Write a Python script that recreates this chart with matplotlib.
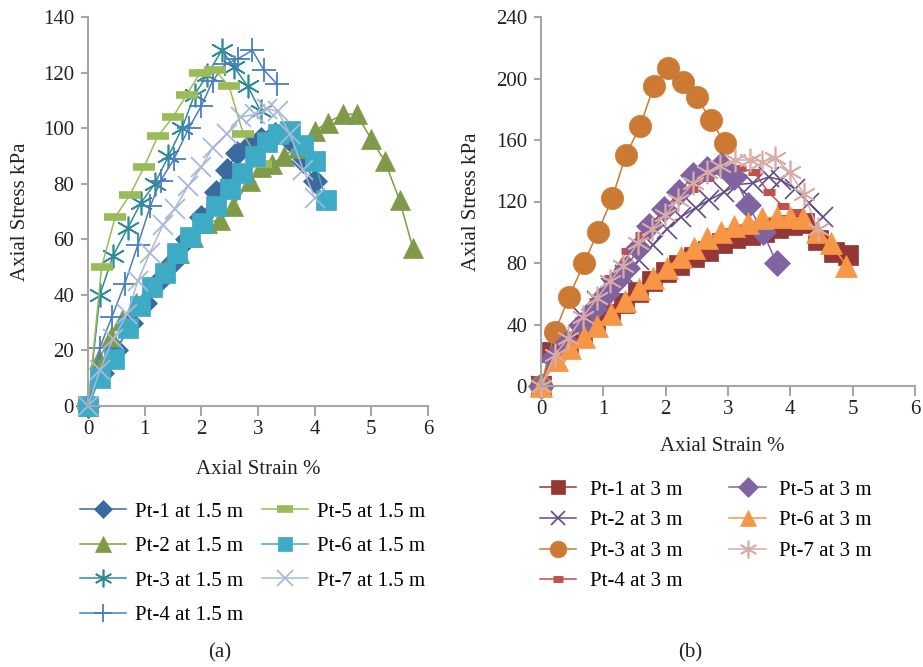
import matplotlib
matplotlib.use("Agg")
import matplotlib.pyplot as plt

plt.rcParams['font.family'] = ['Liberation Serif', 'DejaVu Serif']

# ---- (a) samples at 1.5 m ----
a_labels = ["Pt-1 at 1.5 m", "Pt-2 at 1.5 m", "Pt-3 at 1.5 m", "Pt-4 at 1.5 m",
            "Pt-5 at 1.5 m", "Pt-6 at 1.5 m", "Pt-7 at 1.5 m"]

a1_x = [0, 0.25, 0.5, 0.75, 1.0, 1.25, 1.5, 1.75, 2.0, 2.25, 2.45, 2.63, 2.85, 3.05, 3.3, 3.55, 3.8, 4.0]
a1_y = [0, 12, 20, 30, 37, 45, 52, 60, 68, 77, 85, 91, 94, 96, 98, 96, 88, 81]

a2_x = [0, 0.2, 0.4, 0.6, 0.85, 1.1, 1.35, 1.6, 1.85, 2.1, 2.33, 2.56, 2.85, 3.05, 3.25, 3.45, 3.7, 4.0, 4.23, 4.5, 4.74, 5.0, 5.24, 5.5, 5.73]
a2_y = [0, 17, 25, 31, 37, 43, 49, 55, 61, 66, 67, 72, 81, 86, 87, 90, 93, 99, 102, 105, 105, 96, 88, 74, 57]

a3_x = [0, 0.21, 0.44, 0.7, 0.93, 1.18, 1.42, 1.66, 1.88, 2.1, 2.36, 2.58, 2.82, 3.05]
a3_y = [0, 40, 54, 64, 73, 80, 90, 100, 112, 119, 128, 122, 115, 106]

a4_x = [0, 0.21, 0.42, 0.65, 0.88, 1.1, 1.28, 1.52, 1.78, 2.0, 2.2, 2.42, 2.65, 2.9, 3.1, 3.33]
a4_y = [0, 21, 32, 44, 58, 72, 81, 89, 100, 108, 117, 123, 125, 128, 121, 116]

a5_x = [0, 0.24, 0.48, 0.74, 0.99, 1.23, 1.5, 1.74, 1.98, 2.24, 2.49, 2.74, 3.05]
a5_y = [0, 50, 68, 76, 86, 97, 104, 112, 120, 121, 115, 98, 87]

a6_x = [0, 0.21, 0.45, 0.7, 0.92, 1.13, 1.35, 1.57, 1.8, 2.02, 2.25, 2.5, 2.72, 2.95, 3.15, 3.35, 3.57, 3.8, 4.0, 4.2]
a6_y = [0, 10, 17, 28, 36, 43, 48, 55, 61, 66, 72, 78, 84, 90, 95, 98, 99, 94, 88, 74]

a7_x = [0, 0.21, 0.44, 0.69, 0.88, 1.09, 1.32, 1.53, 1.76, 2.0, 2.2, 2.45, 2.7, 2.95, 3.16, 3.35, 3.56, 3.8, 4.0]
a7_y = [0, 13, 24, 33, 45, 55, 65, 71, 79, 86, 93, 98, 104, 105, 107, 106, 98, 85, 75]

# ---- (b) samples at 3 m ----
b_labels = ["Pt-1 at 3 m", "Pt-2 at 3 m", "Pt-3 at 3 m", "Pt-4 at 3 m",
            "Pt-5 at 3 m", "Pt-6 at 3 m", "Pt-7 at 3 m"]

b1_x = [0, 0.18, 0.43, 0.65, 0.87, 1.1, 1.33, 1.55, 1.78, 2.0, 2.22, 2.45, 2.68, 2.9, 3.12, 3.35, 3.57, 3.8, 4.02, 4.22, 4.45, 4.7, 4.92]
b1_y = [0, 22, 28, 35, 41, 47, 54, 61, 68, 74, 79, 84, 88, 93, 96, 98, 100, 103, 105, 106, 95, 87, 85]

b2_x = [0, 0.22, 0.45, 0.68, 0.9, 1.12, 1.35, 1.58, 1.8, 2.02, 2.25, 2.48, 2.7, 2.93, 3.15, 3.4, 3.65, 3.85, 4.08, 4.3, 4.52]
b2_y = [0, 22, 33, 45, 55, 64, 72, 82, 92, 102, 110, 116, 121, 126, 131, 132, 136, 134, 128, 119, 110]

b3_x = [0, 0.22, 0.45, 0.69, 0.91, 1.14, 1.36, 1.59, 1.81, 2.04, 2.28, 2.5, 2.72, 2.95]
b3_y = [0, 35, 58, 80, 100, 122, 150, 169, 195, 207, 198, 188, 173, 158]

b4_x = [0, 0.2, 0.42, 0.64, 0.86, 1.1, 1.38, 1.6, 1.8, 2.0, 2.2, 2.43, 2.68, 2.95, 3.19, 3.42, 3.65, 3.88, 4.1]
b4_y = [0, 20, 30, 43, 55, 70, 88, 98, 107, 115, 122, 128, 135, 141, 142, 139, 126, 117, 113]

b5_x = [0, 0.2, 0.42, 0.64, 0.85, 1.05, 1.2, 1.38, 1.56, 1.74, 1.98, 2.22, 2.44, 2.66, 2.88, 3.1, 3.32, 3.56, 3.78]
b5_y = [0, 18, 28, 40, 50, 60, 68, 77, 90, 104, 115, 126, 137, 141, 144, 136, 118, 100, 80]

b6_x = [0, 0.25, 0.47, 0.69, 0.9, 1.13, 1.35, 1.57, 1.8, 2.02, 2.24, 2.45, 2.67, 2.88, 3.1, 3.32, 3.55, 3.78, 4.0, 4.2, 4.42, 4.65, 4.9]
b6_y = [0, 17, 25, 32, 39, 47, 55, 63, 70, 77, 84, 90, 96, 100, 104, 106, 109, 110, 110, 109, 100, 93, 78]

b7_x = [0, 0.22, 0.43, 0.67, 0.9, 1.1, 1.31, 1.55, 1.78, 1.99, 2.2, 2.44, 2.66, 2.87, 3.12, 3.35, 3.55, 3.76, 3.99, 4.22, 4.44]
b7_y = [0, 20, 31, 45, 57, 68, 78, 93, 102, 111, 121, 132, 139, 143, 147, 147, 146, 148, 139, 125, 102]

a_series = [(a1_x, a1_y), (a2_x, a2_y), (a3_x, a3_y), (a4_x, a4_y),
            (a5_x, a5_y), (a6_x, a6_y), (a7_x, a7_y)]
b_series = [(b1_x, b1_y), (b2_x, b2_y), (b3_x, b3_y), (b4_x, b4_y),
            (b5_x, b5_y), (b6_x, b6_y), (b7_x, b7_y)]

# colour, marker, marker size, marker edge width
a_styles = [
    ("#3A6AA0", "D", 12, 0.5),
    ("#7F9A48", "^", 15, 0.5),
    ("#2E8B9A", (6, 2, 0), 17, 1.2),
    ("#4A7EC0", "+", 17, 1.3),
    ("#9BBB59", "_", 16, 5.5),
    ("#3DAAC6", "s", 14, 0.5),
    ("#A9B9D9", "x", 15, 1.3),
]
b_styles = [
    ("#953735", "s", 14, 0.5),
    ("#5F4B8B", "x", 14, 1.2),
    ("#CC7A33", "o", 16, 0.5),
    ("#C0504D", "_", 9, 5),
    ("#8064A2", "D", 13, 0.5),
    ("#F79646", "^", 16, 0.5),
    ("#D9AAA6", (6, 2, 0), 17, 1.2),
]

FS = 15
TXT = "#222222"

fig = plt.figure(figsize=(9.23, 6.67), dpi=100)
ax_a = fig.add_axes([88 / 923, 261 / 667, 340 / 923, 389 / 667])
ax_b = fig.add_axes([541 / 923, 281 / 667, 374 / 923, 369 / 667])


def draw(ax, series, styles, labels):
    handles = []
    for (xs, ys), (col, mk, ms, mew), lab in zip(series, styles, labels):
        h, = ax.plot(xs, ys, color=col, lw=1.1, marker=mk, markersize=ms,
                     markerfacecolor=col, markeredgecolor=col, markeredgewidth=mew,
                     label=lab, clip_on=False)
        handles.append(h)
    ax.set_xlim(0, 6)
    for s in ["top", "right"]:
        ax.spines[s].set_visible(False)
    for s in ["left", "bottom"]:
        ax.spines[s].set_color("#A6A6A6")
        ax.spines[s].set_linewidth(1.5)
    ax.tick_params(axis="both", direction="out", color="#A6A6A6", width=1.5,
                   labelsize=FS, labelcolor=TXT)
    ax.tick_params(axis="x", length=7, pad=3)
    ax.tick_params(axis="y", length=5, pad=5)
    ax.set_xlabel("Axial Strain %", fontsize=FS, color=TXT)
    ax.set_ylabel("Axial Stress kPa", fontsize=FS, color=TXT)
    return handles


ha = draw(ax_a, a_series, a_styles, a_labels)
ax_a.set_ylim(0, 140)
ax_a.set_yticks(range(0, 141, 20))
ax_a.set_xticks(range(0, 7))
ax_a.xaxis.set_label_coords(0.5, -0.14)
ax_a.yaxis.set_label_coords(-0.17, 0.5)

hb = draw(ax_b, b_series, b_styles, b_labels)
ax_b.set_ylim(0, 240)
ax_b.set_yticks(range(0, 241, 40))
ax_b.set_xticks(range(0, 7))
ax_b.xaxis.set_label_coords(0.485, -0.137)
ax_b.yaxis.set_label_coords(-0.16, 0.5)

fig.legend(handles=ha, labels=a_labels, ncol=2, loc="upper left",
           bbox_to_anchor=(80 / 923, 1 - 502 / 667), frameon=False,
           borderpad=0, borderaxespad=0,
           fontsize=FS, handlelength=2.2, columnspacing=0.9, labelspacing=0.72,
           markerscale=0.75, handletextpad=0.45)
fig.legend(handles=hb, labels=b_labels, ncol=2, loc="upper left",
           bbox_to_anchor=(540 / 923, 1 - 480 / 667), frameon=False,
           borderpad=0, borderaxespad=0,
           fontsize=FS, handlelength=1.75, columnspacing=2.25, labelspacing=0.53,
           markerscale=0.75, handletextpad=0.65)

fig.text(220 / 923, 1 - 653 / 667, "(a)", ha="center", va="center", fontsize=FS, color=TXT)
fig.text(690 / 923, 1 - 653 / 667, "(b)", ha="center", va="center", fontsize=FS, color=TXT)

fig.savefig("out.png", dpi=100)
